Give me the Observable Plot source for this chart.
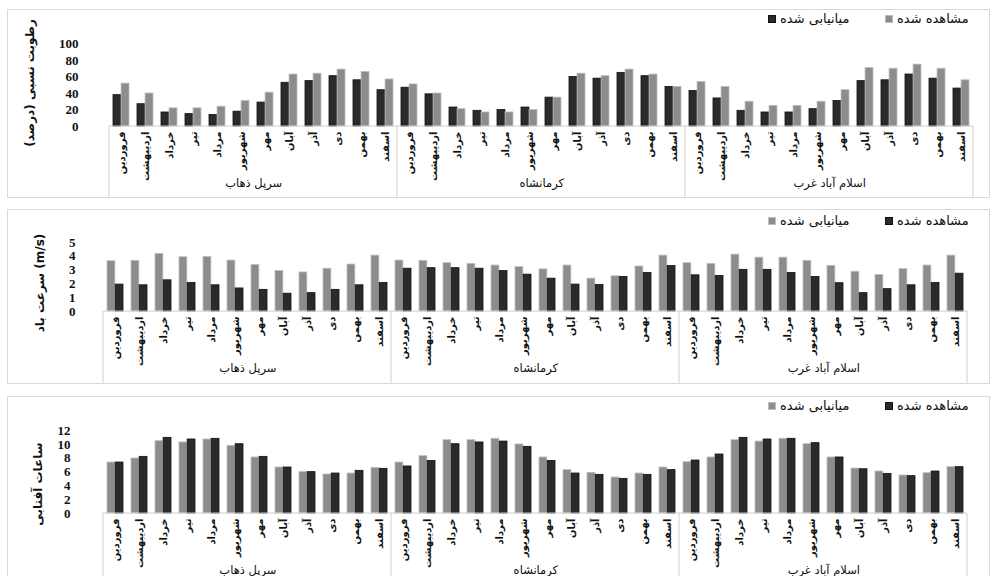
<!DOCTYPE html>
<html><head><meta charset="utf-8">
<script src="https://cdn.jsdelivr.net/npm/d3@7"></script>
<script src="https://cdn.jsdelivr.net/npm/@observablehq/plot@0.6"></script>
<style>
body{margin:0;background:#fff;width:992px;height:576px;overflow:hidden;position:relative;font-family:"DejaVu Sans",sans-serif;}
.plotsvg{position:absolute;left:0;}
.panel{position:absolute;left:7px;width:983px;border:1px solid #d9d9d9;box-sizing:border-box;pointer-events:none;}
.legend{position:absolute;font-size:13px;color:#111;white-space:nowrap;}
.legend .item{position:absolute;top:0;display:flex;align-items:center;gap:4px;}
.sw{width:8px;height:8px;display:inline-block;box-sizing:border-box;}
.ytitle{position:absolute;transform:translate(-50%,-50%) rotate(-90deg);white-space:nowrap;font-weight:bold;font-size:12px;color:#111;}
text.numtick{font-family:"Liberation Serif","DejaVu Serif",serif !important;font-weight:bold !important;}
</style></head>
<body>
<script>
const months = ["فروردین","اردیبهشت","خرداد","تیر","مرداد","شهریور","مهر","آبان","آذر","دی","بهمن","اسفند"];
const stations = ["سرپل ذهاب","کرمانشاه","اسلام آباد غرب"];
const seriesNames = ["میانیابی شده","مشاهده شده"];

// Relative humidity (%) — one row per station
const humSim = [
  [38, 27, 17, 15, 14, 18, 29, 53, 55, 61, 56, 44],
  [47, 39, 23, 19, 20, 23, 35, 60, 58, 65, 61, 48],
  [43, 34, 19, 17, 17, 21, 31, 55, 56, 63, 58, 46]
];
const humObs = [
  [52, 40, 22, 22, 24, 31, 41, 63, 64, 69, 66, 57],
  [51, 40, 21, 17, 17, 20, 35, 64, 61, 69, 63, 48],
  [54, 48, 30, 25, 25, 30, 44, 71, 70, 75, 70, 56]
];
const humTicks = [0, 20, 40, 60, 80, 100];

// Wind speed (m/s)
const windSim = [
  [3.64, 3.67, 4.17, 3.93, 3.95, 3.69, 3.36, 2.93, 2.83, 3.10, 3.40, 4.05],
  [3.69, 3.67, 3.50, 3.45, 3.33, 3.21, 3.05, 3.33, 2.38, 2.55, 3.26, 4.05],
  [3.50, 3.45, 4.12, 3.90, 3.90, 3.67, 3.31, 2.88, 2.64, 3.07, 3.33, 4.05]
];
const windObs = [
  [1.95, 1.90, 2.26, 2.07, 1.90, 1.67, 1.57, 1.29, 1.33, 1.57, 1.90, 2.07],
  [3.10, 3.14, 3.14, 3.10, 2.93, 2.67, 2.38, 1.95, 1.93, 2.50, 2.79, 3.29],
  [2.62, 2.57, 3.02, 3.02, 2.79, 2.50, 2.05, 1.33, 1.62, 1.90, 2.07, 2.74]
];
const windTicks = [0, 1, 2, 3, 4, 5];

// Sunshine hours
const sunSim = [
  [7.37, 7.95, 10.46, 10.27, 10.70, 9.78, 8.10, 6.65, 5.98, 5.64, 5.78, 6.60],
  [7.37, 8.29, 10.60, 10.60, 10.80, 9.98, 8.10, 6.27, 5.88, 5.20, 5.78, 6.65],
  [7.42, 8.10, 10.60, 10.40, 10.80, 10.02, 8.10, 6.50, 6.07, 5.49, 5.83, 6.70]
];
const sunObs = [
  [7.37, 8.19, 10.94, 10.70, 10.80, 10.02, 8.19, 6.65, 5.98, 5.78, 6.17, 6.46],
  [6.80, 7.60, 10.02, 10.27, 10.40, 9.64, 7.60, 5.78, 5.59, 5.01, 5.59, 6.27],
  [7.66, 8.53, 10.94, 10.70, 10.80, 10.17, 8.10, 6.40, 5.73, 5.40, 6.07, 6.70]
];
const sunTicks = [0, 2, 4, 6, 8, 10, 12];

const titles = ["رطوبت نسبی (درصد)", "سرعت باد (m/s)", "ساعات آفتابی"];

const DARK = "#2a2a2a", DARKSTROKE = "#111", GRAY = "#8c8c8c", GRAYSTROKE = "#bdbdbd";

function makePanel(cfg) {
  const W = 992;
  const rows = [];
  stations.forEach((s, i) => months.forEach((m, j) =>
    rows.push({key: i + "|" + m, station: s, month: m, sim: cfg.sim[i][j], obs: cfg.obs[i][j]})));
  const keys = rows.map(d => d.key);
  const PI = 0.34;
  const step = (W - cfg.ml - cfg.mr) / keys.length;
  const half = step * (1 - PI) / 2;
  const mids = stations.map((s, i) => ({key: i + "|" + months[5], station: s}));
  const svg = Plot.plot({
    width: W, height: cfg.height,
    marginTop: cfg.mt, marginBottom: cfg.mb, marginLeft: cfg.ml, marginRight: cfg.mr,
    style: {background: "transparent", overflow: "visible"},
    x: {domain: keys, paddingInner: PI, paddingOuter: PI / 2},
    y: {domain: cfg.domain},
    marks: [
      Plot.barY(rows, {x: "key", y: "sim", insetRight: half, fill: cfg.simFill, stroke: cfg.simStroke, strokeWidth: 0.8}),
      Plot.barY(rows, {x: "key", y: "obs", insetLeft: half, fill: cfg.obsFill, stroke: cfg.obsStroke, strokeWidth: 0.8}),
      Plot.axisX({tickFormat: k => k.split("|")[1], tickRotate: -90, tickSize: 0, tickPadding: 5,
        fontSize: 10, fontWeight: "bold", fontFamily: "DejaVu Sans", fill: "#111", label: null}),
      Plot.axisY({ticks: cfg.ticks, tickFormat: d => String(d), tickSize: 0, tickPadding: cfg.tp, label: null,
        fontSize: 13, fontWeight: "bold", fill: "#111"}),
      Plot.text(mids, {x: "key", text: "station", dx: step / 2, frameAnchor: "bottom", dy: 60,
        fontSize: 11.5, fontFamily: "DejaVu Sans", fill: "#111"})
    ]
  });
  svg.classList.add("plotsvg");
  svg.style.top = cfg.top + "px";
  d3.select(svg).selectAll("text")
    .filter(function() { return /^\d+$/.test(this.textContent.trim()); })
    .classed("numtick", true)
    .style("font-family", '"Liberation Serif", "DejaVu Serif", serif')
    .style("font-weight", "bold");
  const x = svg.scale("x"), y = svg.scale("y");
  const bw = x.bandwidth, st = x.step, gap = (st - bw) / 2;
  const y0 = y.apply(0);
  const xs = stations.map((s, i) => x.apply(i + "|" + months[0]) - gap);
  xs.push(x.apply("2|" + months[11]) + bw + gap);
  const g = d3.select(svg).append("g").attr("stroke", "#cfcfcf").attr("stroke-width", 1);
  g.append("line").attr("x1", xs[0]).attr("x2", xs[xs.length - 1]).attr("y1", y0).attr("y2", y0);
  xs.forEach(v => g.append("line").attr("x1", v).attr("x2", v).attr("y1", y0).attr("y2", cfg.boxBottom));
  document.body.appendChild(svg);

  const border = document.createElement("div");
  border.className = "panel";
  border.style.top = cfg.bTop + "px";
  border.style.height = cfg.bH + "px";
  document.body.appendChild(border);

  const t = document.createElement("div");
  t.className = "ytitle";
  t.textContent = cfg.title;
  t.style.left = cfg.tx + "px";
  t.style.top = cfg.ty + "px";
  document.body.appendChild(t);

  const lg = document.createElement("div");
  lg.className = "legend";
  lg.style.top = (cfg.ly - 9) + "px";
  lg.style.left = "0px";
  const items = [[seriesNames[0], cfg.simFill, cfg.simStroke, 768], [seriesNames[1], cfg.obsFill, cfg.obsStroke, 885]];
  items.forEach(([name, f, s, left]) => {
    const it = document.createElement("div");
    it.className = "item";
    it.style.left = left + "px";
    it.innerHTML = `<span class="sw" style="background:${f};border:1px solid ${s}"></span><span dir="rtl">${name}</span>`;
    lg.appendChild(it);
  });
  document.body.appendChild(lg);
}

makePanel({top: 0, height: 200, mt: 43.5, mb: 74, ml: 101, mr: 12, domain: [0, 100], ticks: humTicks, tp: 23,
  sim: humSim, obs: humObs, simFill: DARK, simStroke: DARKSTROKE, obsFill: GRAY, obsStroke: GRAYSTROKE,
  boxBottom: 197, bTop: 9, bH: 189, title: titles[0], tx: 30, ty: 83, ly: 20});
makePanel({top: 200, height: 190, mt: 42, mb: 79, ml: 91, mr: 13, domain: [0, 5], ticks: windTicks, tp: 16,
  sim: windSim, obs: windObs, simFill: GRAY, simStroke: GRAYSTROKE, obsFill: DARK, obsStroke: DARKSTROKE,
  boxBottom: 183, bTop: 209, bH: 175, title: titles[1], tx: 40, ty: 283, ly: 222});
makePanel({top: 390, height: 186, mt: 40, mb: 63, ml: 90, mr: 13, domain: [0, 12], ticks: sunTicks, tp: 20,
  sim: sunSim, obs: sunObs, simFill: GRAY, simStroke: GRAYSTROKE, obsFill: DARK, obsStroke: DARKSTROKE,
  boxBottom: 190, bTop: 396, bH: 200, title: titles[2], tx: 38, ty: 484, ly: 407});
</script>
</body></html>
